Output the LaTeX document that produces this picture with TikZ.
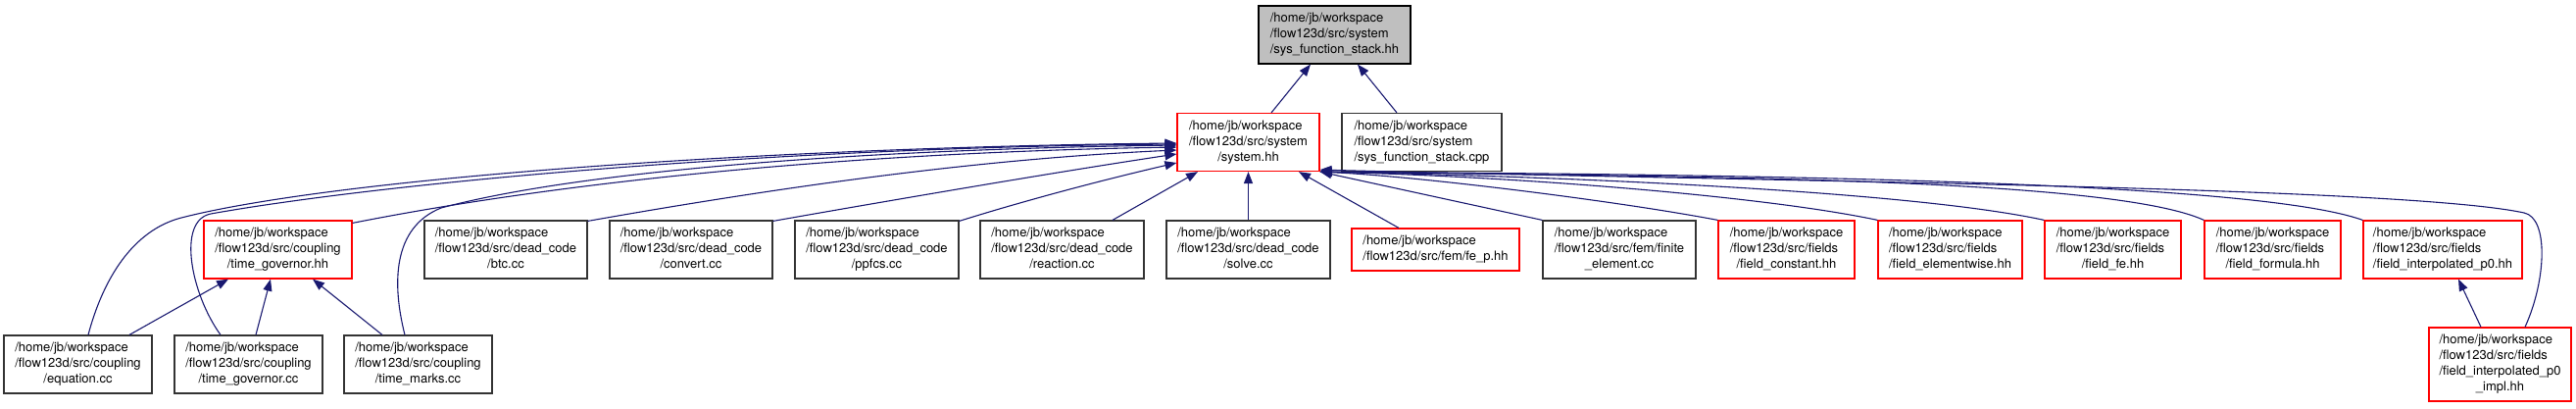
\documentclass[tikz,border=0pt]{standalone}
\usepackage{fontspec}
\setmainfont{TeX Gyre Heros}
\usetikzlibrary{arrows.meta}
\definecolor{depblue}{HTML}{191970}
\definecolor{boxred}{HTML}{FF0000}
\definecolor{boxgray}{HTML}{BFBFBF}
\newcommand{\fs}{\fontsize{13}{16}\selectfont}
\newcommand{\fp}[2]{\begin{tabular}{@{}l@{}}#1\\\multicolumn{1}{@{}c@{}}{#2}\end{tabular}}
\begin{document}
\begin{tikzpicture}[x=1pt, y=-1pt, >={Triangle[length=12pt,width=9pt]}, font=\fs,
  box/.style={draw=black!80, line width=1.2pt, inner sep=0pt, minimum height=59pt},
  redbox/.style={box, draw=boxred},
  graybox/.style={box, fill=boxgray, draw=black},
  dep/.style={->, draw=depblue, line width=1.1pt}]
\useasboundingbox (0,0) rectangle (2628,416);

\node[graybox, minimum width=155pt] (stackhh) at (1361.5,35.5) {\fp{/home/jb/workspace\\/flow123d/src/system}{/sys\_function\_stack.hh}};

\node[redbox, minimum width=145pt] (systemhh) at (1273.5,145) {\fp{/home/jb/workspace\\/flow123d/src/system}{/system.hh}};
\node[box, minimum width=163pt] (stackcpp) at (1450.5,145) {\fp{/home/jb/workspace\\/flow123d/src/system}{/sys\_function\_stack.cpp}};

\node[redbox, minimum width=151pt] (tgovhh) at (283.5,254.5) {\fp{/home/jb/workspace\\/flow123d/src/coupling}{/time\_governor.hh}};
\node[box, minimum width=166pt] (btc) at (516,254.5) {\fp{/home/jb/workspace\\/flow123d/src/dead\_code}{/btc.cc}};
\node[box, minimum width=166pt] (convert) at (705,254.5) {\fp{/home/jb/workspace\\/flow123d/src/dead\_code}{/convert.cc}};
\node[box, minimum width=167pt] (ppfcs) at (894.5,254.5) {\fp{/home/jb/workspace\\/flow123d/src/dead\_code}{/ppfcs.cc}};
\node[box, minimum width=167pt] (reaction) at (1083.5,254.5) {\fp{/home/jb/workspace\\/flow123d/src/dead\_code}{/reaction.cc}};
\node[box, minimum width=167pt] (solve) at (1273.5,254.5) {\fp{/home/jb/workspace\\/flow123d/src/dead\_code}{/solve.cc}};
\node[redbox, minimum width=171pt, minimum height=43pt] (fep) at (1464.5,254.5) {\fp{/home/jb/workspace}{/flow123d/src/fem/fe\_p.hh}};
\node[box, minimum width=156pt] (finel) at (1652,254.5) {\fp{/home/jb/workspace\\/flow123d/src/fem/finite}{\_element.cc}};
\node[redbox, minimum width=139pt] (fconst) at (1822.5,254.5) {\fp{/home/jb/workspace\\/flow123d/src/fields}{/field\_constant.hh}};
\node[redbox, minimum width=147pt] (felem) at (1989.5,254.5) {\fp{/home/jb/workspace\\/flow123d/src/fields}{/field\_elementwise.hh}};
\node[redbox, minimum width=139pt] (ffe) at (2155.5,254.5) {\fp{/home/jb/workspace\\/flow123d/src/fields}{/field\_fe.hh}};
\node[redbox, minimum width=139pt] (fform) at (2318.5,254.5) {\fp{/home/jb/workspace\\/flow123d/src/fields}{/field\_formula.hh}};
\node[redbox, minimum width=162pt] (finterp) at (2492,254.5) {\fp{/home/jb/workspace\\/flow123d/src/fields}{/field\_interpolated\_p0.hh}};

\node[box, minimum width=151pt] (equation) at (79.5,371.5) {\fp{/home/jb/workspace\\/flow123d/src/coupling}{/equation.cc}};
\node[box, minimum width=151pt] (tgovcc) at (253.5,371.5) {\fp{/home/jb/workspace\\/flow123d/src/coupling}{/time\_governor.cc}};
\node[box, minimum width=151pt] (tmarks) at (426.5,371.5) {\fp{/home/jb/workspace\\/flow123d/src/coupling}{/time\_marks.cc}};
\node[redbox, minimum width=145pt, minimum height=75pt] (impl) at (2550.5,371.5) {\fp{/home/jb/workspace\\/flow123d/src/fields\\/field\_interpolated\_p0}{\_impl.hh}};

\draw[dep] ([xshift=23.5pt]systemhh.north) -- ([xshift=-24.5pt]stackhh.south);
\draw[dep] ([xshift=-25.5pt]stackcpp.north) -- ([xshift=23.5pt]stackhh.south);

\draw[dep] ([xshift=52.5pt]equation.north) -- ([xshift=-50.5pt]tgovhh.south);
\draw[dep] ([xshift=7.5pt]tgovcc.north) -- ([xshift=-7.5pt]tgovhh.south);
\draw[dep] ([xshift=-36.5pt]tmarks.north) -- ([xshift=35.5pt]tgovhh.south);
\draw[dep] ([xshift=-19.5pt]impl.north) -- ([xshift=16pt]finterp.south);

% into the left side of system.hh
\draw[dep] ([xshift=10.5pt]equation.north) .. controls (105,285) and (135,235) .. (185,222)
  .. controls (350,180) and (800,150) .. ([yshift=-1pt]systemhh.west);
\draw[dep] ([xshift=-28.5pt]tgovcc.north) .. controls (195,300) and (180,225) .. (215,218)
  .. controls (400,185) and (800,150) .. ([yshift=-2pt]systemhh.west);
\draw[dep] ([xshift=-13.5pt]tmarks.north) .. controls (400,290) and (400,232) .. (450,212)
  .. controls (600,172) and (900,152) .. ([yshift=-3pt]systemhh.west);
\draw[dep] ([yshift=-3pt]tgovhh.north east) .. controls (600,180) and (900,155) .. ([yshift=-5pt]systemhh.west);
\draw[dep] ([yshift=-1pt]btc.north east) .. controls (800,190) and (1000,162) .. ([yshift=-8pt]systemhh.west);
\draw[dep] ([yshift=-1pt]convert.north east) .. controls (950,197) and (1100,172) .. ([yshift=-12pt]systemhh.west);
\draw[dep] ([yshift=-1pt]ppfcs.north east) .. controls (1060,200) and (1140,180) .. ([yshift=-21pt]systemhh.west);

% from below
\draw[dep] ([xshift=51.5pt]reaction.north) -- ([xshift=-51.5pt]systemhh.south);
\draw[dep] (solve.north) -- (systemhh.south);
\draw[dep] ([xshift=-37.5pt]fep.north) -- ([xshift=51.5pt]systemhh.south);

% into the lower right corner
\draw[dep] (finel.north west) -- (systemhh.south east);
\draw[dep] (fconst.north west) .. controls (1650,205) and (1450,180) .. (systemhh.south east);
\draw[dep] (felem.north west) .. controls (1800,200) and (1550,180) .. (systemhh.south east);
\draw[dep] (ffe.north west) .. controls (1950,195) and (1600,180) .. (systemhh.south east);
\draw[dep] (fform.north west) .. controls (2150,180) and (1700,180) .. (systemhh.south east);
\draw[dep] (finterp.north west) .. controls (2300,185) and (1800,178) .. (systemhh.south east);
\draw[dep] ([xshift=25.5pt]impl.north) .. controls (2598,285) and (2600,222) .. (2575,217)
  .. controls (2450,190) and (1800,185) .. ([yshift=2pt]systemhh.south east);
\end{tikzpicture}
\end{document}
